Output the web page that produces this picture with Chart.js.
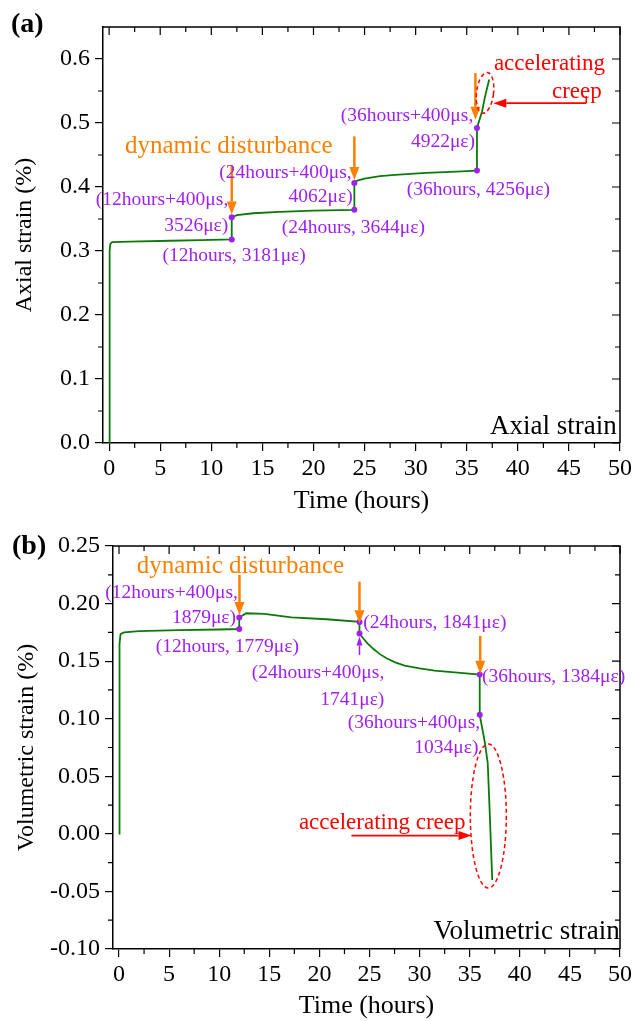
<!DOCTYPE html>
<html>
<head>
<meta charset="utf-8">
<script src="https://cdn.jsdelivr.net/npm/chart.js@4"></script>
<style>
  html, body { margin: 0; padding: 0; background: #fff; }
  #wrap { position: relative; width: 644px; height: 1021px; }
  canvas { position: absolute; left: 0; }
  #chartA { top: 0; }
  #chartB { top: 516px; }
</style>
</head>
<body>
<div id="wrap">
  <canvas id="chartA" width="644" height="516"></canvas>
  <canvas id="chartB" width="644" height="505"></canvas>
</div>
<script>
// values (time in hours, strain in %)
var axialTime   = [0, 0.05, 0.12, 0.3, 2, 6, 9, 12, 12, 12.5, 14.1, 16.7, 20, 24, 24, 24.3, 25, 26.5, 28, 31, 34, 36, 36, 36.5, 36.8, 37.0, 37.2];
var axialStrain = [0, 0.300, 0.311, 0.314, 0.3148, 0.316, 0.317, 0.3181, 0.3526, 0.356, 0.359, 0.361, 0.363, 0.3644, 0.4062, 0.410, 0.413, 0.417, 0.419, 0.422, 0.424, 0.4256, 0.4922, 0.518, 0.542, 0.555, 0.568];
var axialMarkTime   = [12, 12, 24, 24, 36, 36];
var axialMarkStrain = [0.3181, 0.3526, 0.3644, 0.4062, 0.4256, 0.4922];

var volTime   = [0, 0.05, 0.15, 0.5, 2, 6, 10, 12, 12, 12.7, 14.5, 17.2, 20.7, 24, 24, 24.3, 24.8, 25.4, 26.0, 26.7, 27.5, 28.5, 30, 31.5, 33.5, 36, 36, 36.5, 36.8, 37.0, 37.25];
var volStrain = [0, 0.165, 0.1735, 0.175, 0.176, 0.177, 0.1775, 0.1779, 0.1879, 0.1916, 0.1910, 0.188, 0.1864, 0.1841, 0.1741, 0.1705, 0.1655, 0.1605, 0.1563, 0.1525, 0.1492, 0.1462, 0.1437, 0.1418, 0.1402, 0.1384, 0.1034, 0.080, 0.0614, 0.018, -0.040];
var volMarkTime   = [12, 12, 24, 24, 36, 36];
var volMarkStrain = [0.1779, 0.1879, 0.1841, 0.1741, 0.1384, 0.1034];

var timeTicks  = [0, 5, 10, 15, 20, 25, 30, 35, 40, 45, 50];
var axialTicks = [0, 0.1, 0.2, 0.3, 0.4, 0.5, 0.6];
var volTicks   = [-0.10, -0.05, 0, 0.05, 0.10, 0.15, 0.20, 0.25];

// annotations: [text, time, strain, align]
var axialNotes = [
  ['(12hours+400\u03bcs,', 11.66, 0.380, 'right'],
  ['3526\u03bc\u03b5)', 11.66, 0.339, 'right'],
  ['(12hours, 3181\u03bc\u03b5)', 12.24, 0.293, 'center'],
  ['(24hours+400\u03bcs,', 23.74, 0.422, 'right'],
  ['4062\u03bc\u03b5)', 23.84, 0.385, 'right'],
  ['(24hours, 3644\u03bc\u03b5)', 23.9, 0.336, 'center'],
  ['(36hours+400\u03bcs,', 35.64, 0.511, 'right'],
  ['4922\u03bc\u03b5)', 35.81, 0.470, 'right'],
  ['(36hours, 4256\u03bc\u03b5)', 36.13, 0.395, 'center']
];
var volNotes = [
  ['(12hours+400\u03bcs,', 11.86, 0.209, 'right'],
  ['1879\u03bc\u03b5)', 11.68, 0.1872, 'right'],
  ['(12hours, 1779\u03bc\u03b5)', 10.81, 0.162, 'center'],
  ['(24hours, 1841\u03bc\u03b5)', 24.38, 0.1834, 'left'],
  ['(24hours+400\u03bcs,', 19.86, 0.1395, 'center'],
  ['1741\u03bc\u03b5)', 26.48, 0.1163, 'right'],
  ['(36hours, 1384\u03bc\u03b5)', 36.23, 0.1365, 'left'],
  ['(36hours+400\u03bcs,', 36.05, 0.0966, 'right'],
  ['1034\u03bc\u03b5)', 35.87, 0.0744, 'right']
];
// disturbance arrows: [time, from strain, to strain]
var axialArrows = [[12, 0.434, 0.357], [24, 0.479, 0.411], [35.85, 0.578, 0.505]];
var volArrows   = [[12.02, 0.2248, 0.190], [24, 0.219, 0.183], [36.05, 0.1719, 0.139]];

var FONT = "'Liberation Serif', 'Times New Roman', serif";
var GREEN = '#0b7a0b', PURPLE = '#a020f0', ORANGE = '#ff8000', RED = '#ff0000';

function arrow(ctx, x0, y0, x1, y1, color, w, hl, hw) {
  var ang = Math.atan2(y1 - y0, x1 - x0);
  var bx = x1 - Math.cos(ang) * hl, by = y1 - Math.sin(ang) * hl;
  ctx.strokeStyle = color; ctx.fillStyle = color; ctx.lineWidth = w;
  ctx.beginPath(); ctx.moveTo(x0, y0); ctx.lineTo(bx, by); ctx.stroke();
  ctx.beginPath();
  ctx.moveTo(x1, y1);
  ctx.lineTo(bx + Math.sin(ang) * hw / 2, by - Math.cos(ang) * hw / 2);
  ctx.lineTo(bx - Math.sin(ang) * hw / 2, by + Math.cos(ang) * hw / 2);
  ctx.closePath(); ctx.fill();
}

var deco = {
  id: 'deco',
  afterDraw: function (chart, args, o) {
    var ctx = chart.ctx, a = chart.chartArea, xs = chart.scales.x, ys = chart.scales.y;
    var X = function (v) { return xs.getPixelForValue(v); };
    var Y = function (v) { return ys.getPixelForValue(v); };
    ctx.save();
    // top and right frame, mirrored and minor ticks
    ctx.strokeStyle = '#000'; ctx.lineWidth = 1.5;
    ctx.beginPath(); ctx.moveTo(a.left, a.top); ctx.lineTo(a.right, a.top); ctx.lineTo(a.right, a.bottom); ctx.stroke();
    ctx.lineWidth = 1.2;
    ctx.beginPath();
    timeTicks.forEach(function (v, i) {
      var p = X(v);
      ctx.moveTo(p, a.top); ctx.lineTo(p, a.top + 8);
      if (i < timeTicks.length - 1) {
        var m = X((v + timeTicks[i + 1]) / 2);
        ctx.moveTo(m, a.top); ctx.lineTo(m, a.top + 5);
        ctx.moveTo(m, a.bottom); ctx.lineTo(m, a.bottom + 5);
      }
    });
    o.yTicks.forEach(function (v, i) {
      var p = Y(v);
      ctx.moveTo(a.right, p); ctx.lineTo(a.right - 8, p);
      if (i < o.yTicks.length - 1) {
        var m = Y((v + o.yTicks[i + 1]) / 2);
        ctx.moveTo(a.right, m); ctx.lineTo(a.right - 5, m);
        ctx.moveTo(a.left, m); ctx.lineTo(a.left - 5, m);
      }
    });
    var last = o.yTicks[o.yTicks.length - 1], step = o.yTicks[1] - o.yTicks[0];
    var mm = Y(last + step / 2);
    if (mm > a.top + 2) {
      ctx.moveTo(a.right, mm); ctx.lineTo(a.right - 5, mm);
      ctx.moveTo(a.left, mm); ctx.lineTo(a.left - 5, mm);
    }
    ctx.stroke();

    // disturbance arrows
    o.arrows.forEach(function (r) { arrow(ctx, X(r[0]), Y(r[1]), X(r[0]), Y(r[2]), ORANGE, 2.5, 13, 10); });
    (o.purpleArrows || []).forEach(function (r) { arrow(ctx, X(r[0]), Y(r[1]), X(r[0]), Y(r[2]), PURPLE, 1.5, 9, 6); });

    // red ellipse + arrow
    var e = o.ellipse;
    ctx.strokeStyle = RED; ctx.lineWidth = 1.5; ctx.setLineDash([4, 3]);
    ctx.beginPath(); ctx.ellipse(X(e[0]), Y(e[1]), e[2], e[3], e[4], 0, Math.PI * 2); ctx.stroke();
    ctx.setLineDash([]);
    var pl = o.redPath;
    ctx.lineWidth = 1.6; ctx.strokeStyle = RED;
    ctx.beginPath(); ctx.moveTo(X(pl[0][0]), Y(pl[0][1]));
    for (var i = 1; i < pl.length - 1; i++) ctx.lineTo(X(pl[i][0]), Y(pl[i][1]));
    ctx.stroke();
    var p0 = pl[pl.length - 2], p1 = pl[pl.length - 1];
    arrow(ctx, X(p0[0]), Y(p0[1]), X(p1[0]), Y(p1[1]), RED, 1.6, 13, 9);

    // texts
    ctx.textBaseline = 'middle';
    ctx.fillStyle = PURPLE; ctx.font = '19.5px ' + FONT;
    o.notes.forEach(function (n) { ctx.textAlign = n[3]; ctx.fillText(n[0], X(n[1]), Y(n[2])); });
    o.texts.forEach(function (n) {
      ctx.fillStyle = n[4]; ctx.font = n[5] + FONT; ctx.textAlign = n[3];
      ctx.fillText(n[0], X(n[1]), Y(n[2]));
    });
    ctx.fillStyle = '#000'; ctx.font = 'bold 28px ' + FONT; ctx.textAlign = 'left';
    ctx.fillText(o.tag[0], o.tag[1], o.tag[2]);
    ctx.restore();
  }
};

function xAxis(h) {
  return {
    type: 'linear', min: -0.6, max: 50,
    afterBuildTicks: function (s) { s.ticks = timeTicks.map(function (v) { return { value: v }; }); },
    afterFit: function (s) { s.height = h; },
    grid: { display: true, drawOnChartArea: false, drawTicks: true, tickLength: 8, color: '#000', lineWidth: 1.2 },
    border: { display: true, color: '#000', width: 1.5 },
    ticks: { color: '#000', padding: 3, maxRotation: 0, autoSkip: false, font: { family: FONT, size: 24 },
      callback: function (v) { return String(v); } },
    title: { display: true, text: 'Time (hours)', color: '#000', font: { family: FONT, size: 26, lineHeight: 1 }, padding: { top: 0, bottom: 2 } }
  };
}
function yAxis(w, min, max, ticks, dec, title, tpad) {
  return {
    type: 'linear', min: min, max: max,
    afterBuildTicks: function (s) { s.ticks = ticks.map(function (v) { return { value: v }; }); },
    afterFit: function (s) { s.width = w; },
    grid: { display: true, drawOnChartArea: false, drawTicks: true, tickLength: 8, color: '#000', lineWidth: 1.2 },
    border: { display: true, color: '#000', width: 1.5 },
    ticks: { color: '#000', padding: 5, autoSkip: false, font: { family: FONT, size: 24 },
      callback: function (v) { return Number(v).toFixed(dec); } },
    title: { display: true, text: title, color: '#000', font: { family: FONT, size: 24, lineHeight: 1 }, padding: { top: tpad, bottom: 0 } }
  };
}
function pts(t, v) { return t.map(function (x, i) { return { x: x, y: v[i] }; }); }

new Chart(document.getElementById('chartA'), {
  type: 'scatter',
  data: { datasets: [
    { data: pts(axialMarkTime, axialMarkStrain), pointRadius: 3, pointBackgroundColor: PURPLE, pointBorderWidth: 0, showLine: false, order: 0 },
    { data: pts(axialTime, axialStrain), showLine: true, borderColor: GREEN, borderWidth: 1.8, pointRadius: 0, tension: 0, order: 1 }
  ] },
  options: {
    responsive: false, animation: false, devicePixelRatio: 1,
    layout: { padding: { left: 0, top: 27, right: 24, bottom: 0 } },
    plugins: {
      legend: { display: false }, tooltip: { enabled: false },
      deco: {
        yTicks: axialTicks,
        arrows: axialArrows, notes: axialNotes,
        ellipse: [36.79, 0.547, 8.5, 20.5, 0.12],
        redPath: [[46.7, 0.542], [46.7, 0.531], [37.6, 0.531]],
        texts: [
          ['dynamic disturbance', 1.55, 0.463, 'left', ORANGE, '25px '],
          ['accelerating', 48.53, 0.593, 'right', RED, '23px '],
          ['creep', 48.21, 0.549, 'right', RED, '23px '],
          ['Axial strain', 49.68, 0.0255, 'right', '#000', '27px ']
        ],
        tag: ['(a)', 11, 25]
      }
    },
    scales: { x: xAxis(73), y: yAxis(103, 0, 0.65, axialTicks, 1, 'Axial strain (%)', 13) }
  },
  plugins: [deco]
});

new Chart(document.getElementById('chartB'), {
  type: 'scatter',
  data: { datasets: [
    { data: pts(volMarkTime, volMarkStrain), pointRadius: 3, pointBackgroundColor: PURPLE, pointBorderWidth: 0, showLine: false, order: 0 },
    { data: pts(volTime, volStrain), showLine: true, borderColor: GREEN, borderWidth: 1.8, pointRadius: 0, tension: 0, order: 1 }
  ] },
  options: {
    responsive: false, animation: false, devicePixelRatio: 1,
    layout: { padding: { left: 0, top: 30, right: 24, bottom: 0 } },
    plugins: {
      legend: { display: false }, tooltip: { enabled: false },
      deco: {
        yTicks: volTicks,
        arrows: volArrows, purpleArrows: [[24, 0.1554, 0.1713]], notes: volNotes,
        ellipse: [36.86, 0.0155, 18, 72, 0],
        redPath: [[23.2, -0.0015], [35.18, -0.0015]],
        texts: [
          ['dynamic disturbance', 1.76, 0.2326, 'left', ORANGE, '25px '],
          ['accelerating creep', 34.58, 0.0098, 'right', RED, '23px '],
          ['Volumetric strain', 49.97, -0.0853, 'right', '#000', '27px ']
        ],
        tag: ['(b)', 12, 31]
      }
    },
    scales: { x: xAxis(72), y: yAxis(113, -0.10, 0.25, volTicks, 2, 'Volumetric strain (%)', 15) }
  },
  plugins: [deco]
});
</script>
</body>
</html>
